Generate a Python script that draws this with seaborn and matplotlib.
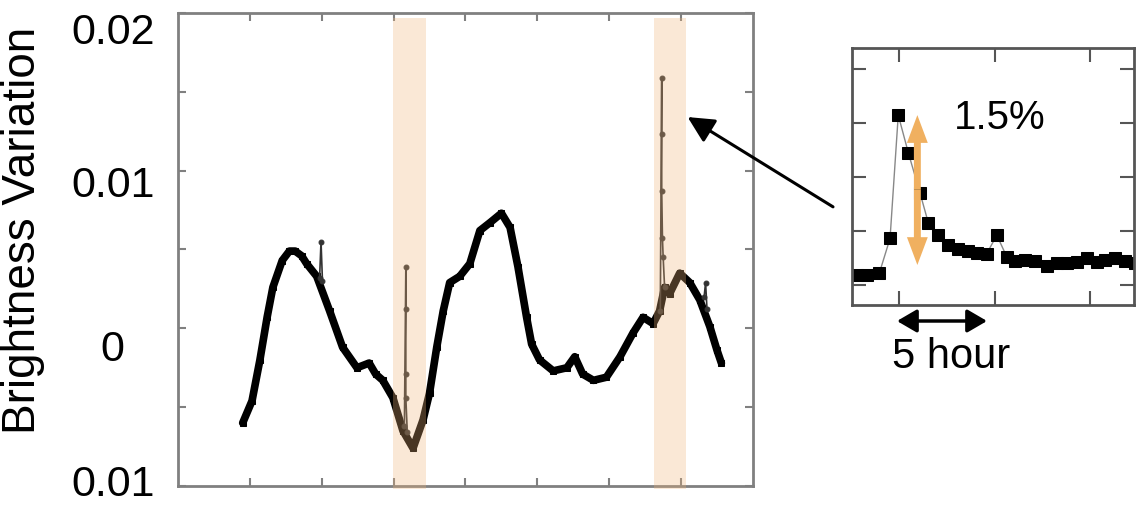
import pandas as pd
import matplotlib
matplotlib.use("Agg")
import matplotlib.pyplot as plt
import matplotlib.transforms as mtransforms
import seaborn as sns

# main light curve
main_x = [0.90, 1.03, 1.14, 1.24, 1.32, 1.45, 1.55, 1.63, 1.72, 1.79, 1.93, 2.11, 2.29, 2.49,
          2.66, 2.75, 2.85, 2.99, 3.13, 3.27, 3.41, 3.50, 3.60, 3.69, 3.78, 3.92, 4.06, 4.20,
          4.34, 4.50, 4.62, 4.73, 4.85, 4.92, 5.03, 5.22, 5.41, 5.52, 5.63, 5.78, 5.96, 6.15,
          6.33, 6.47, 6.61, 6.70, 6.77, 6.84, 6.98, 7.12, 7.26, 7.40, 7.50, 7.56]
main_y = [-0.0060, -0.0046, -0.0020, 0.0007, 0.0026, 0.0043, 0.0049, 0.0049, 0.0046, 0.0041,
          0.0033, 0.0011, -0.0012, -0.0025, -0.0022, -0.0029, -0.0033, -0.0044, -0.0065,
          -0.0076, -0.0058, -0.0041, -0.0012, 0.0011, 0.0029, 0.0033, 0.0041, 0.0062, 0.0067,
          0.0073, 0.0064, 0.0039, 0.0007, -0.0010, -0.0020, -0.0027, -0.0025, -0.0018,
          -0.0029, -0.0033, -0.0031, -0.0018, -0.0003, 0.0007, 0.0003, 0.0011, 0.0026,
          0.0022, 0.0035, 0.0029, 0.0018, 0.0001, -0.0014, -0.0022]

# flare spikes (thin lines)
spike1_x = [3.15, 3.17, 3.17, 3.17, 3.17, 3.19]
spike1_y = [-0.0062, 0.0039, 0.0012, -0.0029, -0.0044, -0.0066]
spike2_x = [6.71, 6.73, 6.73, 6.73, 6.74, 6.75, 6.77]
spike2_y = [0.0011, 0.0159, 0.0123, 0.0087, 0.0057, 0.0045, 0.0026]
small_x = [1.97, 1.99, 2.01]
small_y = [0.0032, 0.0055, 0.0030]
small2_x = [7.32, 7.34, 7.36]
small2_y = [0.0020, 0.0029, 0.0012]

# zoomed flare (hours, %)
inset_x = [-2.22, -1.69, -1.03, -0.47, -0.04, 0.49, 1.10, 1.54, 2.03, 2.58, 3.11, 3.63,
           4.07, 4.59, 5.12, 5.64, 6.07, 6.60, 7.12, 7.73, 8.26, 8.78, 9.30, 9.83, 10.35,
           10.79, 11.31, 11.83, 12.35]
inset_y = [0.09, 0.09, 0.11, 0.43, 1.57, 1.22, 0.85, 0.57, 0.46, 0.37, 0.33, 0.31, 0.30,
           0.29, 0.46, 0.26, 0.22, 0.23, 0.22, 0.18, 0.20, 0.20, 0.21, 0.25, 0.21, 0.23,
           0.25, 0.22, 0.20]

bands = [(2.99, 3.45), (6.62, 7.07)]

ytick_vals = [-0.01, -0.005, 0, 0.005, 0.01, 0.015, 0.02]
ytick_text = ["0.01", "", "0", "", "0.01", "", "0.02"]
ytick_shift = [-6, 0, 17, 0, 11, 0, 16]  # px, labels sit a bit below their ticks

sns.set_theme(style="white")
plt.rcParams["font.family"] = ["Liberation Sans", "DejaVu Sans"]
plt.rcParams["text.color"] = "black"
plt.rcParams["axes.labelcolor"] = "black"
plt.rcParams["ytick.labelcolor"] = "black"

fig = plt.figure(figsize=(11.38, 5.07), dpi=100)
ax = fig.add_axes([0.1564, 0.0414, 0.5053, 0.9330])

df_main = pd.DataFrame({"x": main_x, "y": main_y})
sns.lineplot(data=df_main, x="x", y="y", ax=ax, color="black", lw=5.5,
             marker="s", markersize=4, markeredgecolor="black",
             estimator=None, sort=False)
for sx, sy in [(spike1_x, spike1_y), (spike2_x, spike2_y), (small_x, small_y), (small2_x, small2_y)]:
    sns.lineplot(x=sx, y=sy, ax=ax, color="#333333", lw=1.2, marker="o", markersize=3.5,
                 markeredgecolor="#333333", estimator=None, sort=False)

for x0, x1 in bands:
    ax.axvspan(x0, x1, ymin=-0.006, ymax=0.99, color="#F0B478", alpha=0.3, lw=0,
               zorder=5, clip_on=False)

ax.set_xlim(0, 8)
ax.set_ylim(-0.01, 0.02)
ax.set_xticks(range(1, 8))
ax.set_xticklabels([])
ax.set_yticks(ytick_vals)
ax.set_yticklabels(ytick_text)
ax.set_xlabel("")
ax.set_ylabel("Brightness Variation", fontsize=33)
ax.yaxis.set_label_coords(-0.231, 0.541)
ax.tick_params(direction="in", length=6, width=1.5, color="#808080",
               top=True, right=True, bottom=True, left=True)
ax.tick_params(axis="y", labelsize=31, pad=47)
for lab, dy in zip(ax.get_yticklabels(), ytick_shift):
    lab.set_horizontalalignment("center")
    offset = mtransforms.ScaledTranslation(0, -dy / 100, fig.dpi_scale_trans)
    lab.set_transform(lab.get_transform() + offset)
for sp in ax.spines.values():
    sp.set_color("#808080")
    sp.set_linewidth(2)

# arrow pointing at the second flare
ax.annotate("", xy=(7.09, 0.0134), xycoords="data",
            xytext=(0.732, 0.592), textcoords="figure fraction",
            arrowprops=dict(arrowstyle="-|>,head_length=0.8,head_width=0.4",
                            color="black", lw=2.2, shrinkA=0, shrinkB=0,
                            mutation_scale=20),
            annotation_clip=False, zorder=10)

# inset
axi = fig.add_axes([0.7487, 0.3984, 0.2478, 0.5069])
sns.lineplot(x=inset_x, y=inset_y, ax=axi, color="#888888", lw=1,
             marker="s", markersize=8, markerfacecolor="black",
             markeredgecolor="black", estimator=None, sort=False)
axi.set_xlim(-2.46, 12.3)
axi.set_ylim(-0.185, 2.19)
axi.set_xticks([0, 5, 10])
axi.set_yticks([0, 0.5, 1.0, 1.5, 2.0])
axi.set_xticklabels([])
axi.set_yticklabels([])
axi.tick_params(direction="in", length=10, width=1.5, color="#555555",
                top=True, right=True, bottom=True, left=True)
for sp in axi.spines.values():
    sp.set_color("#555555")
    sp.set_linewidth(2)

orange = "#F0B060"
for yend in (1.57, 0.185):
    axi.annotate("", xy=(0.96, yend), xytext=(0.96, 0.88),
                 arrowprops=dict(arrowstyle="simple,head_length=1.0,head_width=0.75,tail_width=0.25",
                                 color=orange, shrinkA=0, shrinkB=0, mutation_scale=20,
                                 lw=0))
fig.text(1000 / 1138, 1 - 118 / 507, "1.5%", fontsize=29, ha="center", va="center")

# 5 hour scale
fig.add_artist(matplotlib.patches.FancyArrowPatch(
    (897 / 1138, 1 - 321 / 507), (987 / 1138, 1 - 321 / 507),
    transform=fig.transFigure, arrowstyle="<|-|>,head_length=0.6,head_width=0.35",
    mutation_scale=20, color="black", lw=2.5, shrinkA=0, shrinkB=0))
fig.text(951 / 1138, 1 - 357 / 507, "5 hour", fontsize=30, ha="center", va="center")

fig.savefig("out.png", dpi=100)
